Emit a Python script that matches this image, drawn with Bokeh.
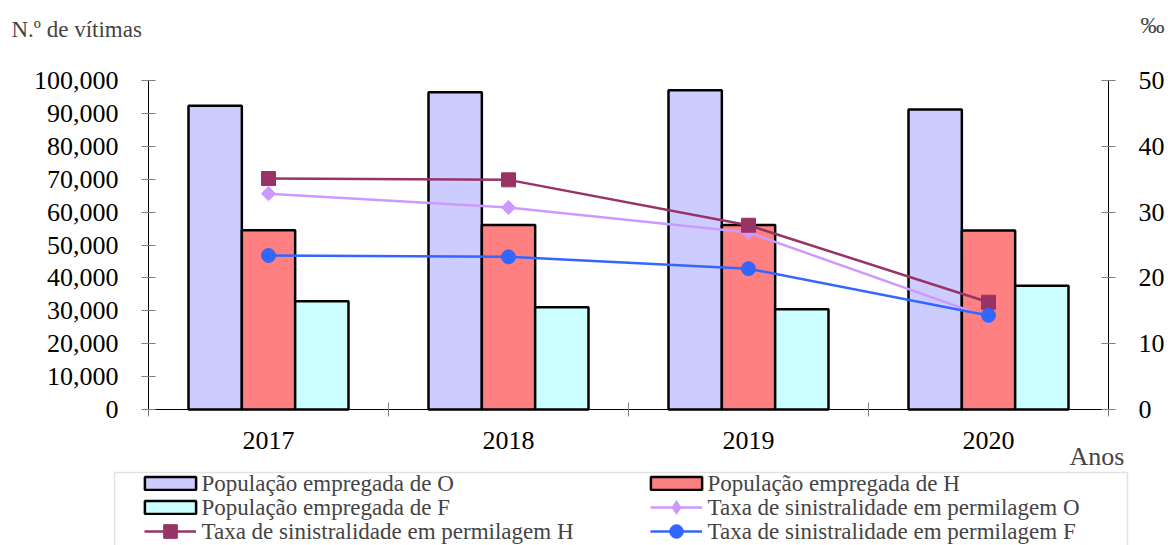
from bokeh.plotting import figure
from bokeh.models import (Range1d, LinearAxis, FixedTicker, NumeralTickFormatter,
                          Legend, LegendItem, Label, BoxAnnotation)
from bokeh.embed import file_html
from bokeh.resources import INLINE

# ---- data ----
years = ["2017", "2018", "2019", "2020"]
pop_O = [92300, 96400, 97000, 91200]
pop_H = [54500, 56100, 56100, 54400]
pop_F = [32900, 31100, 30500, 37600]
rate_O = [32.8, 30.7, 26.9, 14.0]
rate_H = [35.1, 34.9, 28.0, 16.3]
rate_F = [23.4, 23.2, 21.4, 14.3]
left_ticks = list(range(0, 100001, 10000))
right_ticks = list(range(0, 51, 10))

labels = {
    "O": "População empregada de O",
    "H": "População empregada de H",
    "F": "População empregada de F",
    "rO": "Taxa de sinistralidade em permilagem O",
    "rH": "Taxa de sinistralidade em permilagem H",
    "rF": "Taxa de sinistralidade em permilagem F",
}

FONT = "Liberation Serif"

# ---- layout constants (pixels) ----
W, H = 1168, 545
PL, PR, PT, PB = 148, 1108, 80, 409      # plot area box
YMAX, RMAX = 100000, 50
LBL_SHIFT = 8                            # Label baseline correction

n = len(years)
xs = [i + 0.5 for i in range(n)]
bw = 2 / 9

xpx = n / (PR - PL)
ypx = YMAX / (PB - PT)
rpx = RMAX / (PB - PT)

p = figure(width=W, height=H,
           x_range=Range1d(-PL * xpx, (W - PL) * xpx),
           y_range=Range1d(-(H - PB) * ypx, YMAX + PT * ypx),
           output_backend="svg", toolbar_location=None,
           min_border_left=0, min_border_right=0, min_border_top=0, min_border_bottom=0)
p.outline_line_color = None
p.xgrid.grid_line_color = None
p.ygrid.grid_line_color = None
p.extra_y_ranges = {"rate": Range1d(-(H - PB) * rpx, RMAX + PT * rpx)}

# axes
ya = p.yaxis[0]
ya.fixed_location = 0
ya.bounds = (0, YMAX)
ya.ticker = FixedTicker(ticks=left_ticks)
ya.formatter = NumeralTickFormatter(format="0,0")
ya.major_label_text_font = FONT
ya.major_label_text_font_size = "26px"
ya.major_label_standoff = 23
ya.major_tick_in = 7
ya.major_tick_out = 7
ya.major_tick_line_color = "#808080"
ya.minor_tick_line_color = None
ya.axis_line_color = "black"
ya.major_label_text_color = "black"

ra = LinearAxis(y_range_name="rate", ticker=FixedTicker(ticks=right_ticks),
                fixed_location=n, bounds=(0, RMAX))
ra.major_label_text_font = FONT
ra.major_label_text_font_size = "26px"
ra.major_label_standoff = 23
ra.major_tick_in = 7
ra.major_tick_out = 7
ra.major_tick_line_color = "#808080"
ra.minor_tick_line_color = None
ra.axis_line_color = "black"
ra.major_label_text_color = "black"
p.add_layout(ra, "right")

xa = p.xaxis[0]
xa.fixed_location = 0
xa.bounds = (0, n)
xa.ticker = FixedTicker(ticks=xs, minor_ticks=list(range(n + 1)))
xa.major_label_overrides = {x: y for x, y in zip(xs, years)}
xa.major_label_text_font = FONT
xa.major_label_text_font_size = "26px"
xa.major_label_standoff = 15
xa.major_tick_in = 0
xa.major_tick_out = 0
xa.minor_tick_in = 7
xa.minor_tick_out = 7
xa.minor_tick_line_color = "#808080"
xa.axis_line_color = "black"
xa.major_label_text_color = "black"

# bars
bO = p.vbar(x=[x - bw for x in xs], top=pop_O, width=bw, fill_color="#CCCCFF",
            line_color="black", line_width=2.5)
bH = p.vbar(x=xs, top=pop_H, width=bw, fill_color="#FF8080",
            line_color="black", line_width=2.5)
bF = p.vbar(x=[x + bw for x in xs], top=pop_F, width=bw, fill_color="#CCFFFF",
            line_color="black", line_width=2.5)

# lines
lO = p.line(xs, rate_O, y_range_name="rate", line_color="#CC99FF", line_width=2.5)
mO = p.scatter(xs, rate_O, y_range_name="rate", marker="square", size=10, angle=0.785398,
               fill_color="#CC99FF", line_color="#CC99FF")
# diamond marker shown only in the legend entry (hidden in the plot)
dO = p.scatter(xs, rate_O, y_range_name="rate", marker="diamond", size=14,
               fill_color="#CC99FF", line_color="#CC99FF", visible=False)
lH = p.line(xs, rate_H, y_range_name="rate", line_color="#993366", line_width=2.5)
mH = p.scatter(xs, rate_H, y_range_name="rate", marker="square", size=14,
               fill_color="#993366", line_color="#993366")
lF = p.line(xs, rate_F, y_range_name="rate", line_color="#3366FF", line_width=2.5)
mF = p.scatter(xs, rate_F, y_range_name="rate", marker="circle", size=14,
               fill_color="#3366FF", line_color="#3366FF")

# legend: one swatch per entry + its text
ROW0, ROWH = 482.5, 24
COLX = [144, 650]
entries = [  # (key, renderers, is_bar, col, row)
    ("O", [bO], True, 0, 0),
    ("H", [bH], True, 1, 0),
    ("F", [bF], True, 0, 1),
    ("rO", [lO, dO], False, 1, 1),
    ("rH", [lH, mH], False, 0, 2),
    ("rF", [lF, mF], False, 1, 2),
]
for key, rends, is_bar, col, row in entries:
    cy = ROW0 + row * ROWH
    gw, gh = (64, 16) if is_bar else (52, 34)
    gx = COLX[col] - (6 if is_bar else 0)
    leg = Legend(items=[LegendItem(label=" ", renderers=rends)],
                 location=(gx, H - (cy + gh / 2)), orientation="vertical",
                 padding=0, spacing=0, margin=0,
                 glyph_width=gw, glyph_height=gh, label_height=1, label_width=1,
                 label_standoff=0, label_text_font_size="1px",
                 inactive_fill_alpha=0,
                 border_line_color=None, background_fill_alpha=0)
    p.add_layout(leg, "center")
    p.add_layout(Label(x=COLX[col] + 57, y=H - (cy + 8 - LBL_SHIFT),
                       x_units="screen", y_units="screen",
                       text=labels[key], text_font=FONT, text_font_size="23px",
                       text_baseline="alphabetic"))

box = BoxAnnotation(left=114, right=1127, top=H - 472, bottom=-20,
                    left_units="screen", right_units="screen",
                    top_units="screen", bottom_units="screen",
                    fill_alpha=0, line_color="#A0A0A0", line_width=1.5)
p.add_layout(box)

# axis titles
p.add_layout(Label(x=11, y=H - (36.5 - LBL_SHIFT), x_units="screen", y_units="screen",
                   text="N.º de vítimas", text_font=FONT, text_font_size="23px",
                   text_baseline="alphabetic"))
p.add_layout(Label(x=1140, y=H - (32 - LBL_SHIFT), x_units="screen", y_units="screen",
                   text="‰", text_font=FONT, text_font_size="24px",
                   text_baseline="alphabetic"))
p.add_layout(Label(x=1069, y=H - (464 - LBL_SHIFT), x_units="screen", y_units="screen",
                   text="Anos", text_font=FONT, text_font_size="26px",
                   text_baseline="alphabetic"))

open("out.html", "w").write(file_html(p, INLINE))
